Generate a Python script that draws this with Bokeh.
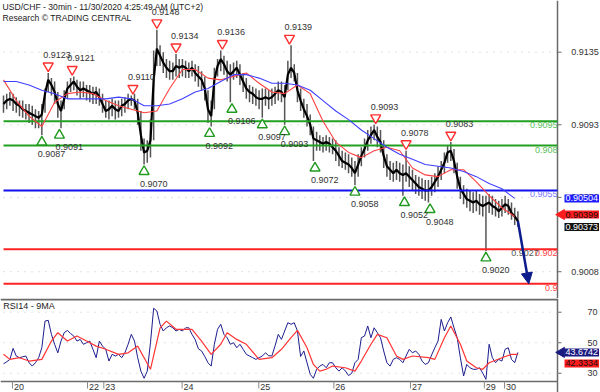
import math
from bokeh.plotting import figure
from bokeh.layouts import column
from bokeh.models import Range1d, Label, Arrow, NormalHead
from bokeh.core.properties import value
from bokeh.embed import file_html
from bokeh.resources import INLINE

# ---------------- data ----------------
TITLE = "USD/CHF - 30min - 11/30/2020 4:25:49 AM (UTC+2)"
SUBTITLE = "Research \u00a9 TRADING CENTRAL"
RSI_TITLE = "RSI14 - 9MA"

hours = list(range(162))
closes = [0.9105, 0.9107, 0.9108, 0.9107, 0.9105, 0.9104, 0.9102, 0.9101, 0.9100, 0.9099,
          0.9098, 0.9097, 0.9099, 0.9111, 0.9119, 0.9116, 0.9112, 0.9105, 0.9101, 0.9108,
          0.9114, 0.9116, 0.9118, 0.9115, 0.9113, 0.9114, 0.9113, 0.9112, 0.9111, 0.9112,
          0.9109, 0.9105, 0.9101, 0.9102, 0.9104, 0.9102, 0.9101, 0.9104, 0.9105, 0.9107,
          0.9108, 0.9107, 0.9100, 0.9087, 0.9077, 0.9078, 0.9084, 0.9119, 0.9137, 0.9133,
          0.9129, 0.9126, 0.9124, 0.9124, 0.9127, 0.9126, 0.9127, 0.9126, 0.9124, 0.9126,
          0.9123, 0.9121, 0.9119, 0.9114, 0.9102, 0.9098, 0.9119, 0.9127, 0.9131, 0.9128,
          0.9124, 0.9122, 0.9124, 0.9126, 0.9122, 0.9118, 0.9114, 0.9112, 0.9111, 0.9109,
          0.9108, 0.9108, 0.9109, 0.9108, 0.9109, 0.9111, 0.9113, 0.9112, 0.9109, 0.9122,
          0.9126, 0.9123, 0.9113, 0.9107, 0.9102, 0.9098, 0.9093, 0.9085, 0.9084, 0.9083,
          0.9082, 0.9083, 0.9082, 0.9080, 0.9078, 0.9075, 0.9072, 0.9071, 0.9070, 0.9068,
          0.9065, 0.9070, 0.9075, 0.9079, 0.9084, 0.9087, 0.9090, 0.9086, 0.9083, 0.9075,
          0.9069, 0.9067, 0.9065, 0.9067, 0.9065, 0.9064, 0.9065, 0.9063, 0.9061, 0.9059,
          0.9057, 0.9056, 0.9055, 0.9055, 0.9057, 0.9060, 0.9063, 0.9067, 0.9071, 0.9077,
          0.9078, 0.9072, 0.9063, 0.9056, 0.9053, 0.9050, 0.9049, 0.9048, 0.9049, 0.9047,
          0.9046, 0.9047, 0.9048, 0.9046, 0.9045, 0.9043, 0.9045, 0.9047, 0.9046, 0.9042,
          0.9040, 0.90373]
highs = [0.9110, 0.9111, 0.9112, 0.9111, 0.9109, 0.9107, 0.9107, 0.9105, 0.9105, 0.9104,
         0.9102, 0.9101, 0.9105, 0.9114, 0.9123, 0.9120, 0.9118, 0.9112, 0.9107, 0.9113,
         0.9118, 0.9120, 0.9121, 0.9119, 0.9118, 0.9118, 0.9116, 0.9116, 0.9115, 0.9115,
         0.9114, 0.9111, 0.9107, 0.9107, 0.9108, 0.9107, 0.9107, 0.9108, 0.9109, 0.9111,
         0.9110, 0.9111, 0.9108, 0.9101, 0.9085, 0.9084, 0.9096, 0.9136, 0.9148, 0.9139,
         0.9135, 0.9131, 0.9130, 0.9129, 0.9134, 0.9131, 0.9131, 0.9130, 0.9129, 0.9130,
         0.9128, 0.9127, 0.9124, 0.9121, 0.9113, 0.9107, 0.9126, 0.9131, 0.9136, 0.9133,
         0.9130, 0.9128, 0.9129, 0.9130, 0.9128, 0.9123, 0.9120, 0.9116, 0.9115, 0.9114,
         0.9113, 0.9114, 0.9114, 0.9113, 0.9114, 0.9115, 0.9118, 0.9118, 0.9116, 0.9130,
         0.9139, 0.9128, 0.9123, 0.9114, 0.9108, 0.9105, 0.9099, 0.9092, 0.9089, 0.9087,
         0.9086, 0.9087, 0.9086, 0.9085, 0.9084, 0.9080, 0.9078, 0.9077, 0.9076, 0.9074,
         0.9072, 0.9076, 0.9080, 0.9085, 0.9090, 0.9092, 0.9093, 0.9092, 0.9090, 0.9084,
         0.9076, 0.9072, 0.9071, 0.9072, 0.9071, 0.9070, 0.9078, 0.9069, 0.9067, 0.9064,
         0.9063, 0.9062, 0.9061, 0.9061, 0.9063, 0.9065, 0.9069, 0.9072, 0.9077, 0.9081,
         0.9083, 0.9079, 0.9071, 0.9063, 0.9058, 0.9056, 0.9055, 0.9054, 0.9055, 0.9053,
         0.9052, 0.9052, 0.9053, 0.9052, 0.9050, 0.9049, 0.9050, 0.9052, 0.9050, 0.9048,
         0.9045, 0.9043]
lows = [0.9100, 0.9102, 0.9104, 0.9101, 0.9100, 0.9098, 0.9097, 0.9096, 0.9094, 0.9093,
        0.9091, 0.9091, 0.9087, 0.9100, 0.9112, 0.9110, 0.9105, 0.9097, 0.9091, 0.9102,
        0.9108, 0.9112, 0.9113, 0.9110, 0.9108, 0.9109, 0.9107, 0.9106, 0.9105, 0.9105,
        0.9104, 0.9100, 0.9097, 0.9096, 0.9098, 0.9096, 0.9097, 0.9098, 0.9100, 0.9102,
        0.9104, 0.9102, 0.9093, 0.9078, 0.9070, 0.9071, 0.9074, 0.9084, 0.9127, 0.9127,
        0.9123, 0.9120, 0.9119, 0.9119, 0.9121, 0.9120, 0.9121, 0.9120, 0.9120, 0.9121,
        0.9118, 0.9115, 0.9113, 0.9107, 0.9094, 0.9092, 0.9102, 0.9121, 0.9124, 0.9122,
        0.9118, 0.9106, 0.9119, 0.9120, 0.9116, 0.9112, 0.9108, 0.9106, 0.9105, 0.9104,
        0.9102, 0.9097, 0.9104, 0.9102, 0.9104, 0.9105, 0.9107, 0.9106, 0.9093, 0.9113,
        0.9120, 0.9118, 0.9106, 0.9101, 0.9097, 0.9092, 0.9087, 0.9072, 0.9078, 0.9078,
        0.9077, 0.9078, 0.9077, 0.9076, 0.9072, 0.9069, 0.9068, 0.9067, 0.9065, 0.9063,
        0.9058, 0.9063, 0.9069, 0.9074, 0.9078, 0.9082, 0.9084, 0.9080, 0.9077, 0.9068,
        0.9063, 0.9061, 0.9060, 0.9061, 0.9060, 0.9052, 0.9060, 0.9057, 0.9055, 0.9053,
        0.9052, 0.9050, 0.9049, 0.9048, 0.9052, 0.9054, 0.9057, 0.9061, 0.9065, 0.9071,
        0.9072, 0.9065, 0.9056, 0.9050, 0.9047, 0.9045, 0.9043, 0.9042, 0.9043, 0.9041,
        0.9040, 0.9020, 0.9042, 0.9041, 0.9040, 0.9039, 0.9040, 0.9042, 0.9041, 0.9038,
        0.9035, 0.9034]

ma_hours = list(range(0, 161, 4))
ma_fast = [0.9119, 0.9107, 0.9098, 0.9092, 0.9106, 0.9111, 0.9112, 0.9111, 0.9107, 0.9104,
           0.9102, 0.9100, 0.9101, 0.9114, 0.9125, 0.9125, 0.9120, 0.9119, 0.9121, 0.9123,
           0.9117, 0.9112, 0.9111, 0.9116, 0.9111, 0.9095, 0.9083, 0.9077, 0.9074, 0.9078,
           0.9080, 0.9078, 0.9068, 0.9064, 0.9063, 0.9067, 0.9067, 0.9060, 0.9052, 0.9045,
           0.90399]
ma_slow = [0.9118, 0.9118, 0.9116, 0.9113, 0.9111, 0.9108, 0.9108, 0.9108, 0.9108, 0.9109,
           0.9108, 0.9104, 0.9104, 0.9105, 0.9108, 0.9112, 0.9114, 0.9118, 0.9122, 0.9122,
           0.9120, 0.9117, 0.9117, 0.9116, 0.9113, 0.9107, 0.9101, 0.9096, 0.9090, 0.9085,
           0.9080, 0.9076, 0.9073, 0.9070, 0.9069, 0.9068, 0.9066, 0.9063, 0.9059, 0.9056,
           0.90504]

levels = [0.9095, 0.9081, 0.9055, 0.9021, 0.9001]
level_labels = ["0.9095", "0.908", "0.9055", "0.902", "0.9"]
target_label = "0.9027"

peak_hours = [14, 21.5, 40.5, 48, 54, 68.5, 89.5, 116.5, 126, 140]
peak_values = [0.9123, 0.9121, 0.9110, 0.9148, 0.9134, 0.9136, 0.9139, 0.9093, 0.9078, 0.9083]
trough_hours = [12, 17.5, 44, 64.5, 71.5, 81, 88, 97.5, 110, 125.5, 133.5, 151]
trough_values = [0.9087, 0.9091, 0.9070, 0.9092, 0.9106, 0.9097, 0.9093, 0.9072, 0.9058,
                 0.9052, 0.9048, 0.9020]

target_hour = 164.4
target_price = 0.9001

rsi = [36.2, 37.5, 39.1, 46.3, 41.3, 40.2, 40.8, 41.3, 36.9, 34.7,
       36.9, 40.2, 46.7, 64.2, 64.7, 55.5, 49.0, 43.4, 51.1, 56.6,
       58.1, 56.0, 54.4, 51.1, 52.2, 49.0, 50.0, 51.1, 45.7, 40.2,
       51.1, 47.8, 45.7, 38.0, 42.4, 41.3, 42.4, 40.2, 43.4, 49.0,
       55.5, 51.1, 40.2, 31.4, 26.7, 31.4, 50.0, 72.6, 70.8, 62.1,
       57.7, 59.8, 61.0, 59.8, 57.7, 58.8, 57.7, 59.8, 59.8, 55.5,
       52.0, 46.0, 44.6, 41.0, 36.9, 34.7, 49.0, 58.8, 62.1, 55.5,
       53.3, 49.0, 50.0, 46.7, 49.0, 45.7, 42.4, 41.3, 40.2, 39.1,
       40.2, 41.3, 43.4, 41.5, 41.3, 48.0, 55.5, 52.2, 57.7, 63.1,
       62.1, 63.1, 57.7, 41.0, 44.6, 36.9, 29.3, 26.7, 32.6, 34.7,
       35.8, 33.6, 36.9, 36.9, 33.6, 31.4, 33.6, 31.5, 28.5, 30.0,
       36.9, 39.1, 53.3, 54.4, 61.0, 53.3, 59.8, 56.6, 53.3, 44.6,
       36.9, 34.7, 39.1, 40.2, 39.1, 36.9, 41.3, 45.7, 43.4, 44.6,
       42.4, 38.0, 35.8, 36.9, 42.0, 46.7, 51.1, 65.3, 57.7, 63.1,
       66.9, 59.8, 53.3, 40.2, 28.2, 35.8, 33.6, 32.6, 32.6, 33.6,
       30.0, 26.0, 49.0, 40.2, 36.9, 39.1, 38.0, 45.7, 46.7, 39.1,
       36.9, 43.6742]
rsi_ma_hours = [0, 2, 5, 8, 12, 15, 17, 20, 23, 26, 29, 32, 36, 39, 42, 44, 46, 49, 51, 54,
                59, 62, 65, 68, 70, 73, 76, 80, 84, 87, 90, 92, 95, 97, 99, 101, 103, 107, 110, 112,
                115, 117, 120, 123, 125, 128, 133, 135, 138, 140, 143, 145, 148, 150, 152, 156, 159, 161]
rsi_ma = [42.4, 39.1, 40.2, 38.0, 39.1, 51.1, 56.6, 51.1, 54.4, 51.1, 47.8, 45.7, 42.4, 43.4, 47.8,
          40.2, 32.6, 59.8, 64.2, 58.8, 58.8, 51.1, 42.4, 49.0, 56.6, 52.2, 49.0, 39.1, 40.2, 45.7,
          53.3, 58.1, 46.7, 35.8, 31.4, 32.6, 34.7, 33.6, 31.4, 38.0, 49.0, 55.5, 53.3, 41.3, 39.1,
          41.3, 40.2, 39.1, 53.3, 61.0, 49.0, 38.0, 33.6, 32.6, 36.9, 40.2, 42.4, 42.3334]

price_ticks = [0.9008, 0.9051, 0.9093, 0.9135]
price_tick_labels = ["0.9008", "0.9050", "0.9093", "0.9135"]
rsi_ticks = [30, 50, 70]
rsi_tick_labels = ["30", "50", "70"]
day_ticks = [2.8, 26.3, 31.4, 55.9, 79.9, 103.4, 127.4, 150.5, 156.8]
day_labels = ["20", "22", "23", "24", "25", "26", "27", "29", "30"]

# ---------------- layout constants ----------------
FONT = "Liberation Sans"
FS = "9px"
PX_H = 3.195                       # pixels per hour
W = 600
TOP_H = 298
X0 = -3 / PX_H
X1 = (W - 3) / PX_H
P_TOP, P_BOT = 0.91649, 0.89925
PPY = TOP_H / (P_TOP - P_BOT)
RPY = 1.5257                       # pixels per RSI unit
R_TOP = 79.0
R_AX = 24.6                        # RSI frame bottom (axis line)
BOT_H = 94
R_BOT = R_TOP - BOT_H / RPY


def hx(px):
    return (px - 3) / PX_H


def pp(py):
    return P_TOP - py / PPY


AX = hx(557)                        # right edge of the chart area
AX_COL = "#6a6a6a"
GRID_COL = "#c4c4c4"


def txt(fig, x, y, t, **kw):
    base = dict(text_font=value(FONT), text_font_size=FS, text_color="#333333")
    base.update(kw)
    fig.text(x=x, y=y, text=t, **base)


def box(fig, x, y, t, bg, fg):
    fig.add_layout(Label(x=x, y=y, text=t, text_baseline="middle", text_font=FONT,
                         text_font_size=FS, text_color=fg, background_fill_color=bg,
                         padding=1))


# ---------------- price panel ----------------
p = figure(width=W, height=TOP_H, x_range=Range1d(X0, X1), y_range=Range1d(P_BOT, P_TOP),
           output_backend="svg", toolbar_location=None, x_axis_location=None, y_axis_location=None,
           min_border=0, outline_line_color=None, background_fill_color="white",
           border_fill_color="white")
p.grid.visible = False

# dotted price grid + right axis
p.segment(x0=[0] * len(price_ticks), y0=price_ticks, x1=[AX] * len(price_ticks), y1=price_ticks,
          line_color=GRID_COL, line_dash="1 6", line_width=1)
p.segment(x0=[AX], y0=[P_BOT], x1=[AX], y1=[P_TOP], line_color=AX_COL, line_width=1.5)
p.segment(x0=[AX] * len(price_ticks), y0=price_ticks, x1=[AX + 4 / PX_H] * len(price_ticks),
          y1=price_ticks, line_color=AX_COL, line_width=1)
txt(p, [AX + 13.7 / PX_H] * len(price_ticks), price_ticks, price_tick_labels,
    text_baseline="middle", text_align="left")

# bars and close path
p.segment(x0=hours, y0=lows, x1=hours, y1=highs, line_color="#555555", line_width=1.5)
p.line(hours, closes, line_color="black", line_width=2.2)

# levels
level_line_colors = ["#22a022", "#22a022", "#1010ee", "#ff2424", "#ff2424"]
level_text_colors = ["#5cc05c", "#5cc05c", "#7a7aff", "#ff4444", "#ff4444"]
p.segment(x0=[0] * len(levels), y0=levels, x1=[AX] * len(levels), y1=levels,
          line_color=level_line_colors, line_width=2)
txt(p, [AX] * len(levels), levels, level_labels, text_color=level_text_colors,
    text_align="right", text_baseline="top", y_offset=1)
txt(p, [hx(510.7)], [levels[3]], [target_label], text_color="#555555",
    text_align="left", text_baseline="top", y_offset=1)

# moving averages
p.line(ma_hours, ma_fast, line_color="#ff4040", line_width=1.1)
p.line(ma_hours, ma_slow, line_color="#4040ff", line_width=1.1)

# peaks / troughs
off = 7 / PPY
pk_y = [v + off for v in peak_values]
tr_y = [v - off for v in trough_values]
p.scatter(peak_hours, pk_y, marker="inverted_triangle", size=10, line_color="#ff2e2e",
          fill_color="white", line_width=1.4)
p.scatter(trough_hours, tr_y, marker="triangle", size=10, line_color="#1f9a1f",
          fill_color="white", line_width=1.4)
txt(p, peak_hours, pk_y, [f"{v:.4f}" for v in peak_values], x_offset=-5, y_offset=-11,
    text_baseline="middle", text_align="left")
txt(p, trough_hours, tr_y, [f"{v:.4f}" for v in trough_values], x_offset=-4, y_offset=12,
    text_baseline="middle", text_align="left")

# projection arrow
NAVY = "#0c1c8c"
p.add_layout(Arrow(end=NormalHead(size=11, fill_color=NAVY, line_color=NAVY),
                   x_start=hours[-1], y_start=closes[-1], x_end=target_hour, y_end=target_price,
                   line_color=NAVY, line_width=2.5))

# titles
p.add_layout(Label(x=hx(2), y=pp(6), text=TITLE, text_baseline="middle", text_font=FONT,
                   text_font_size="8.6px", text_color="#222222"))
p.add_layout(Label(x=hx(2), y=pp(17), text=SUBTITLE, text_baseline="middle", text_font=FONT,
                   text_font_size="8.6px", text_color="#222222"))

# right side value boxes
box(p, hx(564), ma_slow[-1], f"{ma_slow[-1]:.5f}", "#1c1cff", "white")
p.scatter([hx(561)], [ma_fast[-1] + 2 / PPY], marker="triangle", angle=math.pi / 2, size=10,
          fill_color="#ff1c1c", line_color="#ff1c1c")
box(p, hx(564), ma_fast[-1] + 2 / PPY, f"{ma_fast[-1]:.5f}", "#ff1c1c", "#111111")
box(p, hx(564), closes[-1] - 6 / PPY, f"{closes[-1]:.5f}", "#111111", "white")

# ---------------- RSI panel ----------------
r = figure(width=W, height=BOT_H, x_range=p.x_range, y_range=Range1d(R_BOT, R_TOP),
           output_backend="svg", toolbar_location=None, x_axis_location=None, y_axis_location=None,
           min_border=0, outline_line_color=None, background_fill_color="white",
           border_fill_color="white")
r.grid.visible = False

# panel frame lines
r.segment(x0=[X0], y0=[R_TOP - 1 / RPY], x1=[AX], y1=[R_TOP - 1 / RPY], line_color=AX_COL,
          line_width=2)
r.segment(x0=[X0], y0=[R_AX], x1=[AX], y1=[R_AX], line_color=AX_COL, line_width=1.5)
r.segment(x0=[AX], y0=[R_BOT], x1=[AX], y1=[R_TOP], line_color=AX_COL, line_width=1.5)

# dotted rsi grid + right ticks/labels
r.segment(x0=[0] * len(rsi_ticks), y0=rsi_ticks, x1=[AX] * len(rsi_ticks), y1=rsi_ticks,
          line_color=GRID_COL, line_dash="1 6", line_width=1)
r.segment(x0=[AX] * len(rsi_ticks), y0=rsi_ticks, x1=[AX + 4 / PX_H] * len(rsi_ticks),
          y1=rsi_ticks, line_color=AX_COL, line_width=1)
txt(r, [AX + 30 / PX_H] * len(rsi_ticks), rsi_ticks, rsi_tick_labels,
    text_baseline="middle", text_align="left")

# day ticks / labels
r.segment(x0=day_ticks, y0=[R_AX] * len(day_ticks), x1=day_ticks,
          y1=[R_AX - 7 / RPY] * len(day_ticks), line_color="#888888", line_width=1)
txt(r, day_ticks, [R_AX - 3 / RPY] * len(day_ticks), day_labels, x_offset=1.5,
    text_baseline="top", text_align="left")

r.line(hours, rsi, line_color="#1c1c8e", line_width=1)
r.line(rsi_ma_hours, rsi_ma, line_color="#ff3434", line_width=1.2)

r.add_layout(Label(x=hx(2.7), y=R_TOP - 7.7 / RPY, text=RSI_TITLE, text_baseline="middle",
                   text_font=FONT, text_font_size=FS, text_color="#222222"))

r.scatter([hx(561)], [rsi[-1]], marker="triangle", angle=math.pi / 2, size=10,
          fill_color="#1a1a80", line_color="#1a1a80")
box(r, hx(564), rsi[-1], f"{rsi[-1]:.4f}", "#1a1a80", "white")
box(r, hx(564), rsi[-1] - 11 / RPY, f"{rsi_ma[-1]:.4f}", "#ff1c1c", "#111111")

layout = column(p, r, spacing=0)
open("out.html", "w").write(file_html(layout, INLINE))
